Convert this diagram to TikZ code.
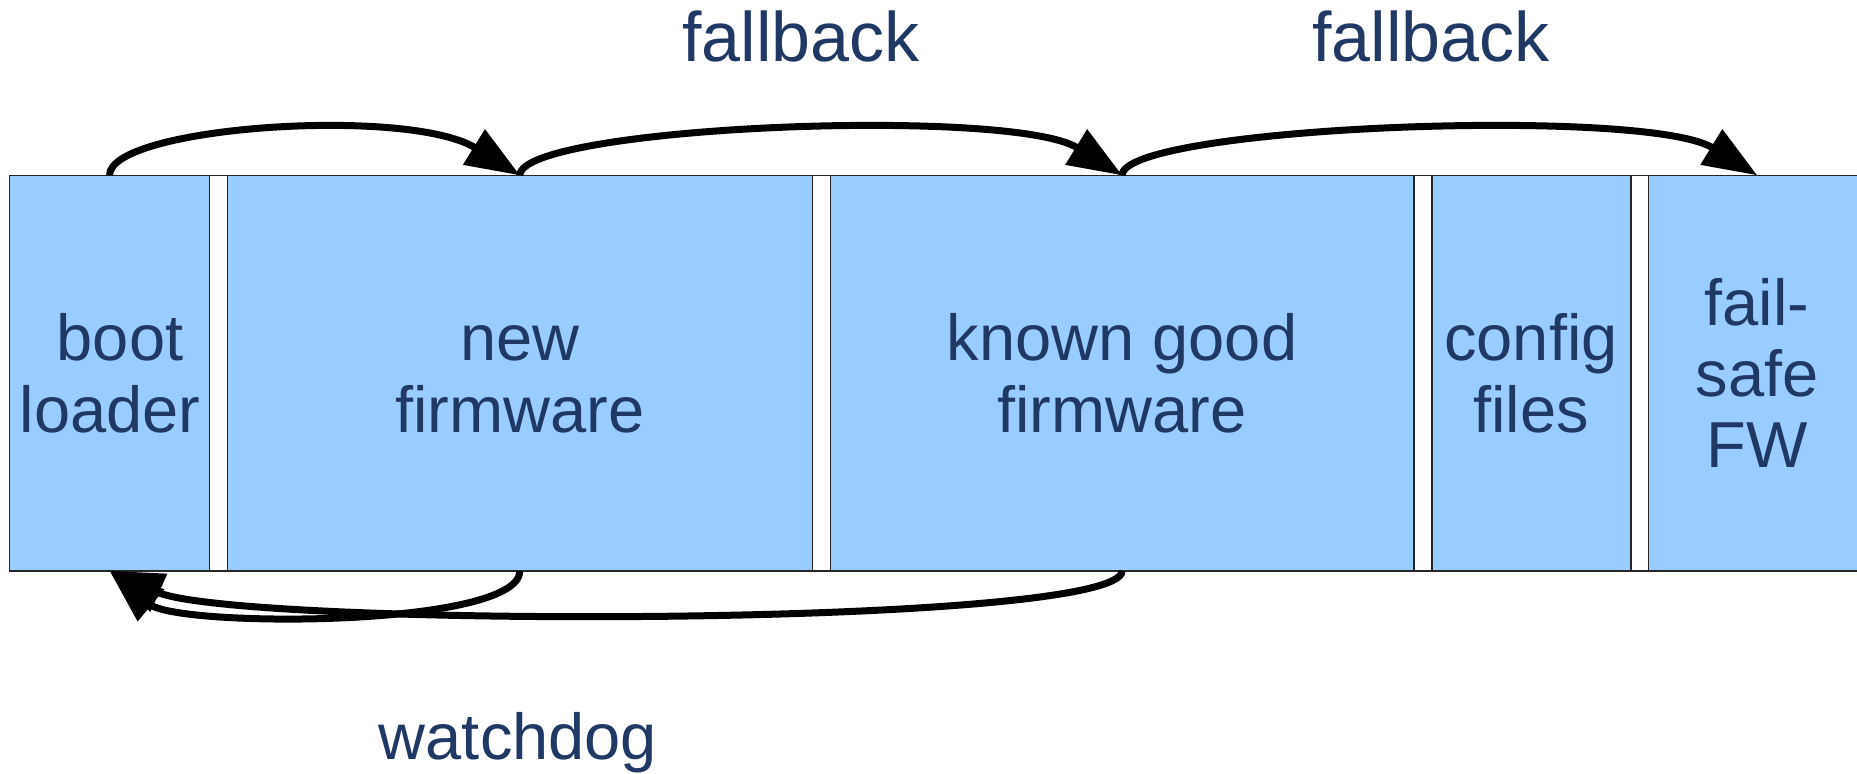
\documentclass[tikz,border=0pt]{standalone}
\usepackage{fontspec}
\setmainfont{Liberation Sans}
\usetikzlibrary{arrows.meta}
\definecolor{boxblue}{HTML}{99CCFF}
\definecolor{navy}{HTML}{1F3864}

\begin{document}
\begin{tikzpicture}[x=0.5pt,y=-0.5pt,
  part/.style={draw=black!85, line width=0.7pt, fill=boxblue, inner sep=0pt,
               outer sep=0pt, minimum height=197.75pt},
  lbl/.style={text=navy, inner sep=0pt, anchor=base,
              font=\fontsize{32.5}{36}\selectfont},
  caption/.style={text=navy, inner sep=0pt, anchor=base,
              font=\fontsize{35}{40}\selectfont},
  jump/.style={draw=black, line width=3.5pt,
               -{Triangle[length=27pt,width=20pt]}}
]
\useasboundingbox (0,0) rectangle (1857,773);
\clip (0,0) rectangle (1857,773);

% flash partitions
\node[part, minimum width=100.05pt] (boot)   at (109.55,373.05) {};
\node[part, minimum width=292.5pt]  (new)    at (519.9,373.05)  {};
\node[part, minimum width=291.9pt]  (known)  at (1122.1,373.05) {};
\node[part, minimum width=99.5pt]   (config) at (1531.3,373.05) {};
\node[part, minimum width=108.75pt] (fail)   at (1757.25,373.05) {};

% outer frame across the gaps
\draw[black!85, line width=0.7pt] (boot.north west) -- (fail.north east);
\draw[black!85, line width=0.7pt] (boot.south west) -- (fail.south east);

% partition labels
\node[lbl] (boot1)   at (120,360)  {boot};
\node[lbl] (boot2)   at (110,432)  {loader};
\node[lbl] (new1)    at (520,360)  {new};
\node[lbl] (new2)    at (520,432)  {firmware};
\node[lbl] (known1)  at (1122,360) {known good};
\node[lbl] (known2)  at (1122,432) {firmware};
\node[lbl] (config1) at (1531,360) {config};
\node[lbl] (config2) at (1531,432) {files};
\node[lbl] (fail1)   at (1757,325) {fail-};
\node[lbl] (fail2)   at (1757,396) {safe};
\node[lbl] (fail3)   at (1757,467) {FW};

% fallback chain along the top
\draw[jump] (boot.north)  .. controls +(0,-49) and +(-112,-69) .. (new.north);
\draw[jump] (new.north)   .. controls +(0,-49) and +(-112,-69) .. (known.north);
\draw[jump] (known.north) .. controls +(0,-49) and +(-112,-69) .. (fail.north);

% watchdog returns along the bottom
\draw[jump] (new.south)   .. controls +(0,57) and +(68.5,57)  .. (boot.south);
\draw[jump] (known.south) .. controls +(0,57) and +(127.5,57) .. (boot.south);

% captions
\node[caption] (fb1) at (801,61)  {fallback};
\node[caption] (fb2) at (1431,61) {fallback};
\node[lbl] (wd)  at (518,759) {watchdog};
\end{tikzpicture}
\end{document}
